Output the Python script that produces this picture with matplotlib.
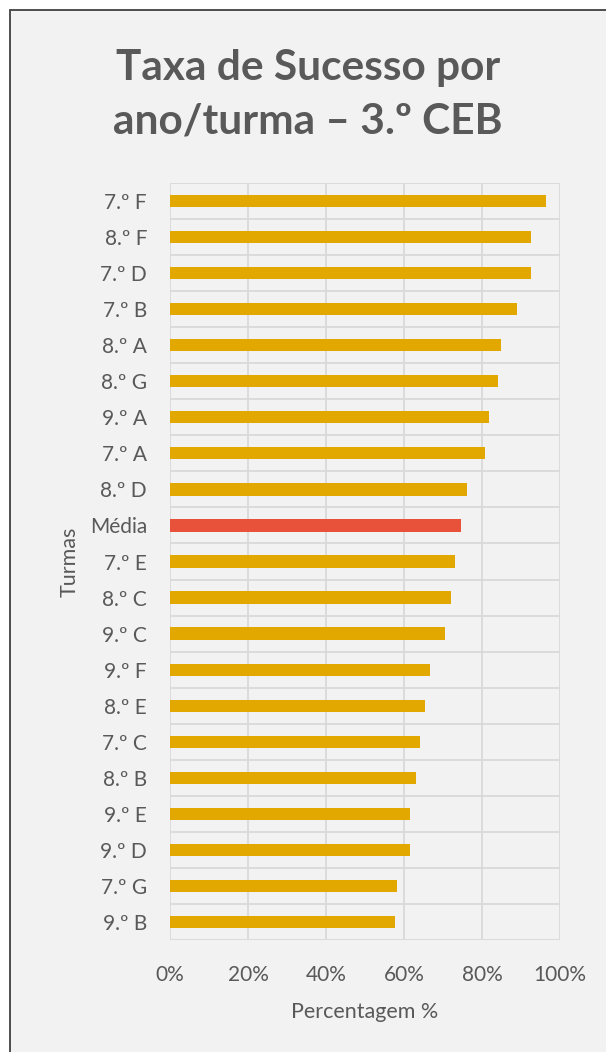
import matplotlib
matplotlib.use("Agg")
import matplotlib.pyplot as plt
from matplotlib.patches import Rectangle
import numpy as np

turmas = ["7.º F", "8.º F", "7.º D", "7.º B", "8.º A", "8.º G", "9.º A", "7.º A", "8.º D",
          "Média", "7.º E", "8.º C", "9.º C", "9.º F", "8.º E", "7.º C", "8.º B", "9.º E",
          "9.º D", "7.º G", "9.º B"]
taxa = [96.4, 92.5, 92.5, 89.0, 84.8, 84.1, 81.7, 80.8, 76.2,
        74.5, 73.0, 72.1, 70.4, 66.6, 65.5, 64.0, 63.0, 61.6,
        61.6, 58.2, 57.8]
xticks = [0, 20, 40, 60, 80, 100]

COR_TURMA = "#E2A800"
COR_MEDIA = "#E8513A"
COR_TEXTO = "#595959"
COR_GRELHA = "#D9D9D9"
FUNDO = "#F2F2F2"

plt.rcParams["font.family"] = ["Lato", "DejaVu Sans"]

fig = plt.figure(figsize=(6.06, 10.52), dpi=100, facecolor="white")
# fundo do gráfico com moldura (cortado à direita e em baixo)
fig.patches.append(Rectangle((10 / 606, -0.05), 1.2, 1 - 10 / 1052 + 0.05,
                             transform=fig.transFigure, facecolor=FUNDO,
                             edgecolor="#404040", linewidth=1.3, zorder=-5))

ax = fig.add_axes([170 / 606, 1 - 940 / 1052, 390 / 606, 757 / 1052])
ax.set_zorder(2)
ax.set_facecolor(FUNDO)

y = np.arange(len(turmas))
cores = [COR_MEDIA if t == "Média" else COR_TURMA for t in turmas]
ax.barh(y, taxa, height=0.34, color=cores, zorder=3)

ax.set_xlim(0, 100)
ax.set_ylim(len(turmas) - 0.5, -0.5)
ax.set_xticks(xticks)
ax.set_xticklabels([f"{v}%" for v in xticks])
ax.set_yticks(y)
ax.set_yticklabels(turmas)

for v in xticks:
    ax.axvline(v, color=COR_GRELHA, linewidth=1.3, zorder=1)
for b in np.arange(-0.5, len(turmas), 1.0):
    ax.axhline(b, color=COR_GRELHA, linewidth=1.3, zorder=1)

for s in ax.spines.values():
    s.set_visible(False)
ax.tick_params(axis="both", length=0, colors=COR_TEXTO, labelsize=15)
ax.tick_params(axis="y", pad=16.5)
ax.tick_params(axis="x", pad=18)

ax.set_xlabel("Percentagem %", color=COR_TEXTO, fontsize=15.5, labelpad=12)
ax.set_ylabel("Turmas", color=COR_TEXTO, fontsize=15.5, labelpad=7)

fig.text(0.5 * (10 / 606 + 1), 1 - 95 / 1052, "Taxa de Sucesso por\nano/turma – 3.º CEB",
         ha="center", va="center", fontsize=30.5, fontweight="bold", color=COR_TEXTO,
         linespacing=1.5)

fig.savefig("out.png", dpi=100, facecolor="white")
